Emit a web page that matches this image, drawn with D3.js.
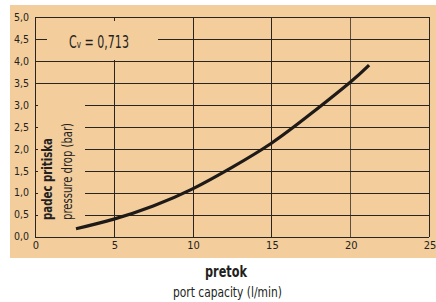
<!DOCTYPE html>
<html>
<head>
<meta charset="utf-8">
<script src="https://cdn.jsdelivr.net/npm/d3@7"></script>
<style>
  html, body { margin: 0; padding: 0; background: #fff; }
  svg { display: block; }
  text { font-family: "DejaVu Sans Condensed", "Liberation Sans Narrow", sans-serif; fill: #231f20; }
</style>
</head>
<body>
<script>
// ---- data ----
var flow = [2.6, 5, 7.5, 10, 12.5, 15, 17.5, 20, 21.2];          // l/min
var drop = [0.18, 0.40, 0.70, 1.09, 1.58, 2.13, 2.80, 3.52, 3.91]; // bar
var xTicks = [0, 5, 10, 15, 20, 25];
var yTicks = [0, 0.5, 1, 1.5, 2, 2.5, 3, 3.5, 4, 4.5, 5];
var cvLabel = "0,713";

var width = 436, height = 302;

var svg = d3.select("body").append("svg")
  .attr("width", width)
  .attr("height", height);

// peach panel
svg.append("rect")
  .attr("x", 10).attr("y", 5)
  .attr("width", width - 10).attr("height", 253)
  .attr("fill", "#f3cd9c");

var x = d3.scaleLinear().domain([0, 25]).range([35, 429]);
var y = d3.scaleLinear().domain([0, 5]).range([236.7, 17.3]);

var grid = svg.append("g")
  .attr("stroke", "#2a2420")
  .attr("stroke-width", 1.1)
  .attr("shape-rendering", "crispEdges");

// horizontal grid lines (some are broken where labels sit)
yTicks.forEach(function(v) {
  var yy = Math.round(y(v)) + 0.5;
  var segs;
  if (v === 4.5) segs = [[x(0), 47], [158, x(25)]];
  else if (v > 0 && v <= 3) segs = [[x(0), x(0) + 3], [85, x(25)]];
  else segs = [[x(0), x(25)]];
  segs.forEach(function(s) {
    grid.append("line")
      .attr("x1", s[0]).attr("x2", s[1])
      .attr("y1", yy).attr("y2", yy);
  });
});

// vertical grid lines
xTicks.forEach(function(v) {
  var xx = Math.round(x(v)) + 0.5;
  var segs = v === 5 ? [[y(5), y(5) + 4], [60, y(0)]] : [[y(5), y(0)]];
  segs.forEach(function(s) {
    grid.append("line")
      .attr("x1", xx).attr("x2", xx)
      .attr("y1", s[0]).attr("y2", s[1])
      .attr("stroke-opacity", v === 20 ? 0.75 : 1);
  });
});

// tick labels
var fmt = function(v) { return d3.format(".1f")(v).replace(".", ","); };

svg.append("g").selectAll("text")
  .data(yTicks)
  .enter().append("text")
  .attr("x", 29)
  .attr("y", function(d) { return y(d); })
  .attr("dy", "0.35em")
  .attr("text-anchor", "end")
  .attr("font-size", 10.5)
  .text(fmt);

svg.append("g").selectAll("text")
  .data(xTicks)
  .enter().append("text")
  .attr("x", function(d) { return x(d) + 1; })
  .attr("y", 249)
  .attr("text-anchor", "middle")
  .attr("font-size", 11)
  .text(function(d) { return d; });

// squeeze a label horizontally so it spans the given width (condensed look)
function fitted(tx, ty, rot, w, build) {
  var g = svg.append("g");
  var t = g.append("text");
  build(t);
  var len = t.node().getComputedTextLength();
  g.attr("transform", "translate(" + tx + "," + ty + ") rotate(" + rot + ") scale(" + (w / len) + ",1)");
  return t;
}

// Cv label
fitted(69, 47.7, 0, 60, function(t) {
  t.attr("font-size", 17);
  t.append("tspan").text("C");
  t.append("tspan").attr("font-size", 11).text("v");
  t.append("tspan").text(" = " + cvLabel);
});

// y axis titles (rotated)
fitted(52, 220, -90, 82, function(t) {
  t.attr("font-size", 14).attr("font-weight", "bold").text("padec pritiska");
});
fitted(72, 220, -90, 97, function(t) {
  t.attr("font-size", 14).text("pressure drop (bar)");
});

// x axis titles
fitted(205, 277, 0, 42, function(t) {
  t.attr("font-size", 15).attr("font-weight", "bold").text("pretok");
});
fitted(173, 297, 0, 109, function(t) {
  t.attr("font-size", 14).text("port capacity (l/min)");
});

// curve
var line = d3.line()
  .x(function(d) { return x(d[0]); })
  .y(function(d) { return y(d[1]); })
  .curve(d3.curveNatural);

svg.append("path")
  .datum(d3.zip(flow, drop))
  .attr("d", line)
  .attr("fill", "none")
  .attr("stroke", "#1e1a18")
  .attr("stroke-width", 3.2);
</script>
</body>
</html>
